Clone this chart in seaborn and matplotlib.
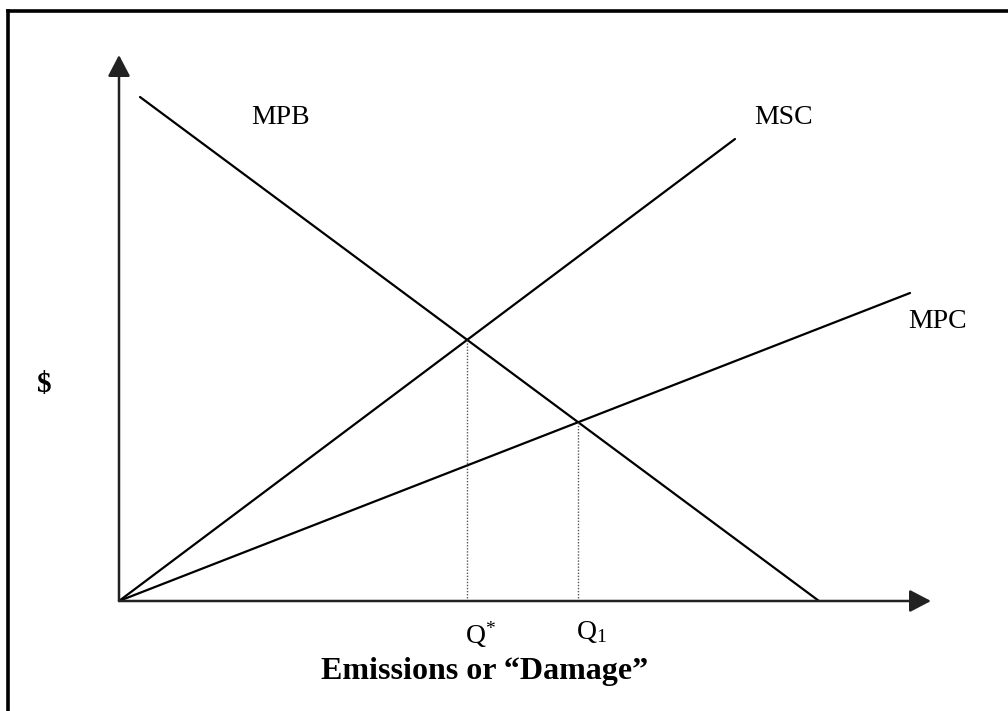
import numpy as np
import pandas as pd
import matplotlib
matplotlib.use("Agg")
import matplotlib.pyplot as plt
import seaborn as sns
from matplotlib.lines import Line2D

# ---- data (quantity / price units) ----
curve_names = ["MPB", "MSC", "MPC"]
curve_q = [[3, 100], [0, 88], [0, 113]]
curve_p = [[72, 0], [0, 66], [0, 44]]
x_axis_end = 116
y_axis_end = 78
x_label = "Emissions or \u201cDamage\u201d"
y_label = "$"

sns.set_theme(style="white")
plt.rcParams["font.family"] = ["Liberation Serif", "DejaVu Serif"]
plt.rcParams["text.color"] = "black"
plt.rcParams["mathtext.fontset"] = "custom"
plt.rcParams["mathtext.rm"] = "Liberation Serif"
plt.rcParams["mathtext.it"] = "Liberation Serif:italic"
plt.rcParams["mathtext.bf"] = "Liberation Serif:bold"

rows = []
for n, qs, ps in zip(curve_names, curve_q, curve_p):
    for q, p in zip(qs, ps):
        rows.append({"curve": n, "q": q, "p": p})
df = pd.DataFrame(rows)

fig = plt.figure(figsize=(10.08, 7.11), dpi=100)
ax = fig.add_axes([0, 0, 1, 1])
ax.set_xlim(-17, 127)
ax.set_ylim(-15.714, 85.857)
ax.axis("off")

sns.lineplot(data=df, x="q", y="p", units="curve", estimator=None,
             color="black", lw=1.6, ax=ax, legend=False, sort=False)


def line_coef(i):
    q0, q1 = curve_q[i]
    p0, p1 = curve_p[i]
    m = (p1 - p0) / (q1 - q0)
    return m, p0 - m * q0


def intersect(i, j):
    m1, b1 = line_coef(i)
    m2, b2 = line_coef(j)
    q = (b2 - b1) / (m1 - m2)
    return q, m1 * q + b1


q_star, p_star = intersect(0, 1)
q_one, p_one = intersect(0, 2)
for q, p in [(q_star, p_star), (q_one, p_one)]:
    ax.plot([q, q], [0, p], ls=(0, (1, 1.2)), color="#555555", lw=1.0)

# axes with arrowheads
arrow_style = "-|>,head_length=13,head_width=6.8"
for xy in [(x_axis_end, 0), (0, y_axis_end)]:
    ax.annotate("", xy=xy, xytext=(0, 0),
                arrowprops=dict(arrowstyle=arrow_style, mutation_scale=1,
                                color="#222222", lw=1.8,
                                shrinkA=0, shrinkB=0))

# curve labels
fs = 20
ax.text(23.1, 69, "MPB", ha="center", va="center", fontsize=fs, color="black")
ax.text(94.9, 69, "MSC", ha="center", va="center", fontsize=fs, color="black")
ax.text(116.9, 39.9, "MPC", ha="center", va="center", fontsize=fs, color="black")

ax.text(q_star - 0.3, -2.6, "Q$^{*}$", ha="left", va="top", fontsize=fs,
        color="black")
ax.text(q_one - 0.3, -2.6, "Q$_{1}$", ha="left", va="top", fontsize=fs,
        color="black")

ax.text(52.3, -10.0, x_label, ha="center", va="center", fontsize=23,
        fontweight="bold", color="black")
ax.text(-10.6, 30.9, y_label, ha="center", va="center", fontsize=21,
        fontweight="bold", color="black")

# outer frame (left and top edges visible)
fx = 8 / 1008
fy = 1 - 11 / 711
fig.add_artist(Line2D([fx, fx], [0, fy], transform=fig.transFigure,
                      color="black", lw=2.6, solid_capstyle="projecting"))
fig.add_artist(Line2D([fx, 1], [fy, fy], transform=fig.transFigure,
                      color="black", lw=2.6, solid_capstyle="projecting"))

fig.savefig("out.png", dpi=100)
